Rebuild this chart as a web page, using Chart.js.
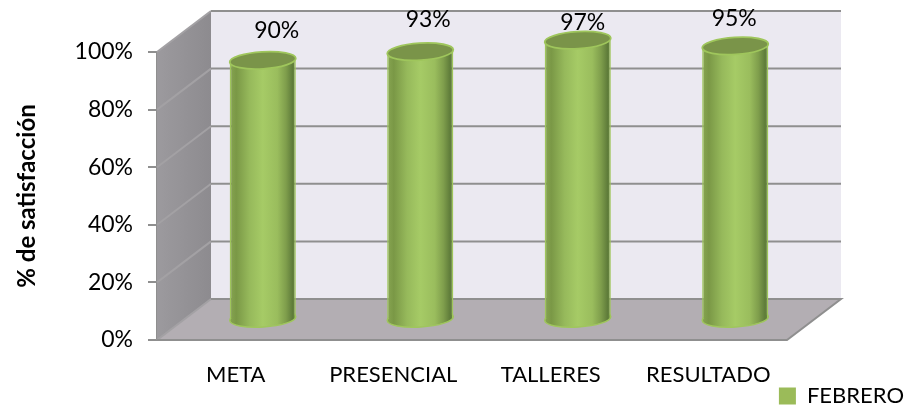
<!DOCTYPE html>
<html>
<head>
<meta charset="utf-8">
<title>% de satisfacción</title>
<script src="https://cdn.jsdelivr.net/npm/chart.js@4"></script>
<style>
    html, body { margin: 0; padding: 0; background: #fff; }
    canvas { display: block; }
</style>
</head>
<body>
<canvas id="satisfactionChart" width="908" height="406"></canvas>
<script>
let categories = ["META", "PRESENCIAL", "TALLERES", "RESULTADO"];
let febrero = [90, 93, 97, 95];
let yTicks = [0, 20, 40, 60, 80, 100];

// how far the back wall sits from the front plane
const DEPTH_X = 54;
const DEPTH_Y = 41;
const BAR_SHARE = 0.42;
const FONT = "Lato";

// the value labels do not sit at a fixed distance from the caps
const labelNudge = [[14, -30], [8, -32], [5, -18], [-1, -27]];

function ellipsePath(ctx, x, y, rx, ry) {
    ctx.beginPath();
    ctx.ellipse(x, y, rx, ry, -0.06, 0, Math.PI * 2);
}

function cylinderGradient(ctx, left, right) {
    let g = ctx.createLinearGradient(left, 0, right, 0);
    g.addColorStop(0, "#87a551");
    g.addColorStop(0.1, "#7a9846");
    g.addColorStop(0.3, "#96b95b");
    g.addColorStop(0.5, "#a6cb66");
    g.addColorStop(0.72, "#9abd5d");
    g.addColorStop(0.85, "#7f9e4c");
    g.addColorStop(0.95, "#5f7c3a");
    g.addColorStop(1, "#6c8b42");
    return g;
}

// walls, floor and the gridlines that run around them
const room = {
    id: "room",
    beforeDatasetsDraw(chart) {
        let ctx = chart.ctx;
        let y = chart.scales.y;
        let left = chart.chartArea.left;
        let right = chart.chartArea.right;
        let top = y.getPixelForValue(100);
        let bottom = y.getPixelForValue(0);

        let poly = (points, fill) => {
            ctx.beginPath();
            points.forEach((p, i) => i ? ctx.lineTo(p[0], p[1]) : ctx.moveTo(p[0], p[1]));
            ctx.closePath();
            ctx.fillStyle = fill;
            ctx.fill();
        };

        ctx.save();
        poly([[left + DEPTH_X, top - DEPTH_Y], [right + DEPTH_X, top - DEPTH_Y],
              [right + DEPTH_X, bottom - DEPTH_Y], [left + DEPTH_X, bottom - DEPTH_Y]], "#ebe9f1");

        let side = ctx.createLinearGradient(left, 0, left + DEPTH_X, 0);
        side.addColorStop(0, "#9c9a9e");
        side.addColorStop(1, "#8d8b8f");
        poly([[left, top], [left + DEPTH_X, top - DEPTH_Y],
              [left + DEPTH_X, bottom - DEPTH_Y], [left, bottom]], side);

        poly([[left, bottom], [left + DEPTH_X, bottom - DEPTH_Y],
              [right + DEPTH_X, bottom - DEPTH_Y], [right, bottom]], "#b3aeb3");

        ctx.lineWidth = 2;
        yTicks.forEach(v => {
            let py = y.getPixelForValue(v);
            // lighter on the side wall
            ctx.strokeStyle = "#a3a1a4";
            ctx.beginPath();
            ctx.moveTo(left, py);
            ctx.lineTo(left + DEPTH_X, py - DEPTH_Y);
            ctx.stroke();

            ctx.strokeStyle = "#8f8f8f";
            ctx.beginPath();
            ctx.moveTo(left + DEPTH_X, py - DEPTH_Y);
            ctx.lineTo(right + DEPTH_X, py - DEPTH_Y);
            if (v === 0) {
                ctx.lineTo(right, py);
                ctx.lineTo(left, py);
            }
            ctx.stroke();
        });
        ctx.restore();
    },
    beforeDatasetDraw(chart, args) {
        let ctx = chart.ctx;
        ctx.save();
        ctx.translate(DEPTH_X / 2, -DEPTH_Y / 2);
        // rounded underside of each cylinder goes in first
        args.meta.data.forEach(bar => {
            let rx = bar.width / 2;
            ellipsePath(ctx, bar.x, bar.base, rx, 8.5);
            ctx.fillStyle = cylinderGradient(ctx, bar.x - rx, bar.x + rx);
            ctx.fill();
            ctx.strokeStyle = "#9fc65c";
            ctx.lineWidth = 1.5;
            ctx.stroke();
        });
    },
    afterDatasetDraw(chart, args) {
        let ctx = chart.ctx;
        args.meta.data.forEach(bar => {
            ellipsePath(ctx, bar.x, bar.y, bar.width / 2, 8.5);
            ctx.fillStyle = "#7a9449";
            ctx.fill();
            ctx.strokeStyle = "#9fc65c";
            ctx.lineWidth = 1.8;
            ctx.stroke();
        });
        ctx.restore();

        // percentage above each cap
        ctx.save();
        ctx.fillStyle = "#000";
        ctx.font = "23px " + FONT;
        ctx.textAlign = "center";
        ctx.textBaseline = "middle";
        args.meta.data.forEach((bar, i) => {
            let nudge = labelNudge[i];
            ctx.fillText(febrero[i] + "%",
                bar.x + DEPTH_X / 2 + nudge[0],
                bar.y - DEPTH_Y / 2 + nudge[1]);
        });
        ctx.restore();
    },
    afterLayout(chart) {
        // legend sits out past the plot, in the bottom right corner
        chart.legend.right = 905;
        chart.legend.top += 11;
        // category labels need more room than the layout leaves the axis
        chart.scales.x.bottom += 25;
    }
};

let chart = new Chart(document.getElementById("satisfactionChart"), {
    type: "bar",
    data: {
        labels: categories,
        datasets: [{
            label: "FEBRERO",
            data: febrero,
            clip: false,
            barPercentage: BAR_SHARE,
            categoryPercentage: 1,
            borderColor: "#9fc65c",
            borderWidth: 1.5,
            borderSkipped: "bottom",
            backgroundColor(c) {
                let x = c.chart.scales.x;
                let rx = x.width / categories.length * BAR_SHARE / 2;
                let cx = x.getPixelForValue(c.dataIndex);
                return cylinderGradient(c.chart.ctx, cx - rx, cx + rx);
            }
        }]
    },
    plugins: [room],
    options: {
        responsive: false,
        animation: false,
        layout: { padding: { top: 52, right: 121, left: 0, bottom: 0 } },
        plugins: {
            legend: {
                position: "bottom",
                align: "end",
                labels: {
                    boxWidth: 17,
                    boxHeight: 17,
                    padding: 1,
                    color: "#000",
                    font: { family: FONT, size: 22 },
                    generateLabels(c) {
                        return [{ text: "FEBRERO", fillStyle: "#9bbb59", strokeStyle: "#9bbb59", lineWidth: 0, fontColor: "#000" }];
                    }
                }
            },
            tooltip: { enabled: false }
        },
        scales: {
            x: {
                afterFit(s) { s.height = 33; },
                grid: { display: false },
                border: { display: false },
                ticks: { color: "#000", padding: 14, maxRotation: 0, font: { family: FONT, size: 22 } }
            },
            y: {
                min: 0,
                max: 100,
                afterFit(s) { s.width = 157; },
                afterBuildTicks(s) { s.ticks = yTicks.map(v => ({ value: v })); },
                grid: { drawOnChartArea: false, tickLength: 9, color: "#8f8f8f", lineWidth: 2 },
                border: { color: "#8f8f8f", width: 2 },
                title: {
                    display: true,
                    text: "% de satisfacción",
                    color: "#000",
                    padding: { top: 13, bottom: 0 },
                    font: { family: FONT, size: 24, weight: "bold" }
                },
                ticks: {
                    color: "#000",
                    padding: 15,
                    font: { family: FONT, size: 23 },
                    callback: v => v + "%"
                }
            }
        }
    }
});
</script>
</body>
</html>
